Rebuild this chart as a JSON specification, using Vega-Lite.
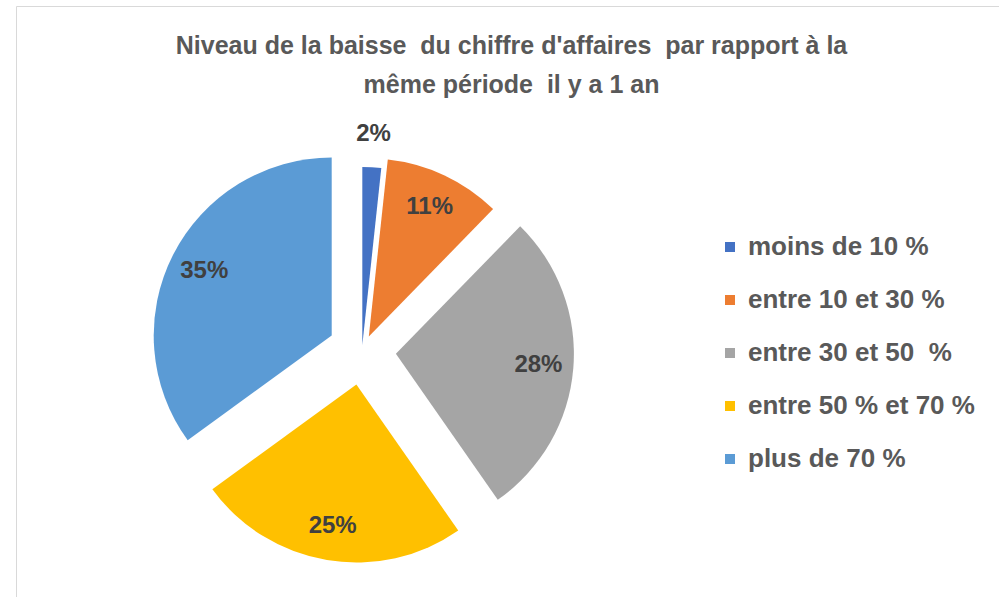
{
  "$schema": "https://vega.github.io/schema/vega-lite/v6.json",
  "autosize": {"type": "none"},
  "padding": {"left": 16, "top": 6, "right": 0, "bottom": 0},
  "width": 983,
  "height": 591,
  "background": "white",
  "view": {"stroke": "#d9d9d9", "strokeWidth": 1},
  "config": {"view": {"stroke": "#d9d9d9", "strokeWidth": 1}},
  "title": {
    "text": ["Niveau de la baisse\u00a0 du chiffre d'affaires\u00a0 par rapport à la", "même période\u00a0 il y a 1 an"],
    "font": "Liberation Sans",
    "fontSize": 25,
    "fontWeight": "bold",
    "color": "#595959",
    "anchor": "middle",
    "lineHeight": 39,
    "offset": -92,
    "dx": 4
  },
  "data": {
    "values": [
      {"tranche": "moins de 10 %", "part": 0.017, "ordre": 1},
      {"tranche": "entre 10 et 30 %", "part": 0.106, "ordre": 2},
      {"tranche": "entre 30 et 50\u00a0 %", "part": 0.280, "ordre": 3},
      {"tranche": "entre 50 % et 70 %", "part": 0.247, "ordre": 4},
      {"tranche": "plus de 70 %", "part": 0.350, "ordre": 5}
    ]
  },
  "encoding": {
    "theta": {"field": "part", "type": "quantitative", "stack": true},
    "order": {"field": "ordre", "type": "quantitative"}
  },
  "layer": [
    {
      "mark": {
        "type": "arc",
        "outerRadius": 178,
        "x": 346,
        "y": 345,
        "xOffset": {"expr": "(datum.tranche === 'moins de 10 %' ? 6 : datum.tranche === 'entre 10 et 30 %' ? 16 : 34) * sin((scale('theta', datum.part_start) + scale('theta', datum.part_end)) / 2)"},
        "yOffset": {"expr": "-(datum.tranche === 'moins de 10 %' ? 6 : datum.tranche === 'entre 10 et 30 %' ? 16 : 34) * cos((scale('theta', datum.part_start) + scale('theta', datum.part_end)) / 2)"}
      },
      "encoding": {
        "color": {
          "field": "tranche",
          "type": "nominal",
          "scale": {
            "domain": ["moins de 10 %", "entre 10 et 30 %", "entre 30 et 50\u00a0 %", "entre 50 % et 70 %", "plus de 70 %"],
            "range": ["#4472C4", "#ED7D31", "#A5A5A5", "#FFC000", "#5B9BD5"]
          },
          "legend": {
            "title": null,
            "orient": "none",
            "legendX": 701,
            "legendY": 228,
            "symbolType": "square",
            "symbolSize": 100,
            "symbolStrokeWidth": 0,
            "labelFont": "Liberation Sans",
            "labelFontSize": 26,
            "labelFontWeight": "bold",
            "labelColor": "#595959",
            "labelOffset": 5,
            "rowPadding": 27,
            "labelLimit": 400
          }
        }
      }
    },
    {
      "mark": {
        "type": "text",
        "x": 346,
        "y": 345,
        "font": "Liberation Sans",
        "fontSize": 24,
        "fontWeight": "bold",
        "color": "#404040",
        "radius": {"expr": "datum.tranche === 'moins de 10 %' ? 211 : 143"},
        "xOffset": {"expr": "(datum.tranche === 'moins de 10 %' ? 6 : datum.tranche === 'entre 10 et 30 %' ? 16 : 34) * sin((scale('theta', datum.part_start) + scale('theta', datum.part_end)) / 2)"},
        "yOffset": {"expr": "-(datum.tranche === 'moins de 10 %' ? 6 : datum.tranche === 'entre 10 et 30 %' ? 16 : 34) * cos((scale('theta', datum.part_start) + scale('theta', datum.part_end)) / 2)"}
      },
      "encoding": {
        "text": {"field": "part", "type": "quantitative", "format": ".0%"}
      }
    }
  ]
}
